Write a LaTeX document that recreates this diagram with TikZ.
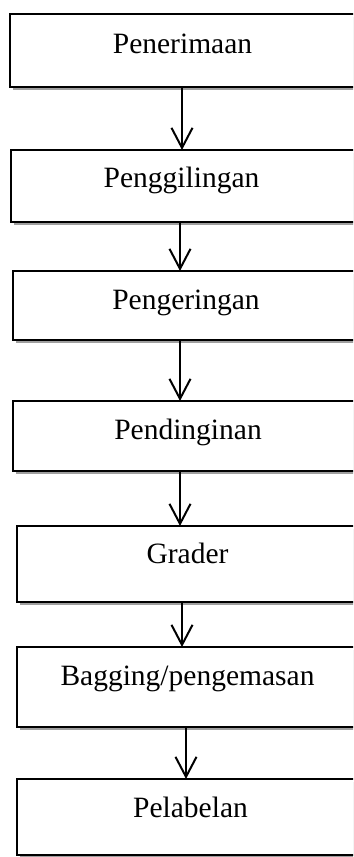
\documentclass[tikz,border=0pt]{standalone}
\usepackage{fontspec}
\setmainfont{Liberation Serif}
\usetikzlibrary{arrows.meta,shadows}

\tikzset{
  stagebox/.style={draw=black, line width=1.8bp, fill=white, rectangle,
    inner sep=0pt, outer sep=0pt, anchor=north west,
    drop shadow={shadow xshift=3bp, shadow yshift=-3bp, fill=gray!75, opacity=1}},
  stagetext/.style={anchor=base, inner sep=0pt,
    font=\fontsize{29.5bp}{35bp}\selectfont},
  flow/.style={draw=black, line width=2bp,
    -{Straight Barb[length=20bp,width=21bp,line width=2bp]}}
}

\begin{document}
\begin{tikzpicture}[x=1bp,y=-1bp]
  \useasboundingbox (0,0) rectangle (353,857);
  \clip (0,0) rectangle (353,857);

  % process stages (boxes run off the right edge)
  \node[stagebox, minimum width=350bp, minimum height=73bp] (b1) at (10,14) {};
  \node[stagebox, minimum width=349bp, minimum height=72bp] (b2) at (11,150) {};
  \node[stagebox, minimum width=347bp, minimum height=69bp] (b3) at (13,271) {};
  \node[stagebox, minimum width=347bp, minimum height=70bp] (b4) at (13,401) {};
  \node[stagebox, minimum width=343bp, minimum height=76bp] (b5) at (17,526) {};
  \node[stagebox, minimum width=343bp, minimum height=80bp] (b6) at (17,647) {};
  \node[stagebox, minimum width=343bp, minimum height=76bp] (b7) at (17,779) {};

  % stage names
  \node[stagetext] (t1) at (182.5,53) {Penerimaan};
  \node[stagetext] (t2) at (181.5,187) {Penggilingan};
  \node[stagetext] (t3) at (186,309) {Pengeringan};
  \node[stagetext] (t4) at (188,439) {Pendinginan};
  \node[stagetext] (t5) at (187.5,563) {Grader};
  \node[stagetext] (t6) at (187.5,685) {Bagging/pengemasan};
  \node[stagetext] (t7) at (190.5,817) {Pelabelan};

  % flow arrows
  \draw[flow] (182,0 |- b1.south) -- (182,0 |- b2.north);
  \draw[flow] (180,0 |- b2.south) -- (180,0 |- b3.north);
  \draw[flow] (180,0 |- b3.south) -- (180,0 |- b4.north);
  \draw[flow] (180,0 |- b4.south) -- (180,0 |- b5.north);
  \draw[flow] (182,0 |- b5.south) -- (182,0 |- b6.north);
  \draw[flow] (186,0 |- b6.south) -- (186,0 |- b7.north);
\end{tikzpicture}
\end{document}
